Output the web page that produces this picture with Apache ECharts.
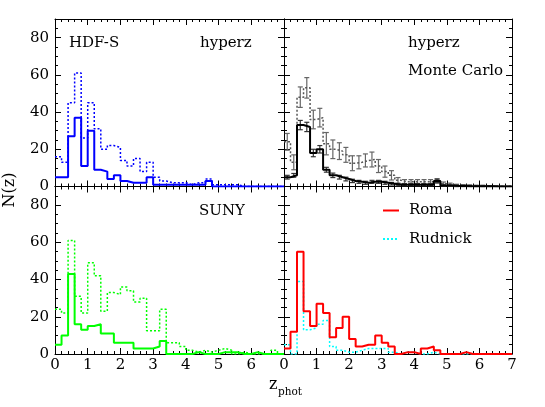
<!DOCTYPE html>
<html>
<head>
<meta charset="utf-8">
<script src="https://cdn.jsdelivr.net/npm/echarts@6/dist/echarts.min.js"></script>
<style>
  html, body { margin: 0; padding: 0; background: #fff; }
  #chart { width: 545px; height: 407px; }
</style>
</head>
<body>
<div id="chart"></div>
<script>
// 35 bins of width 0.2 in z_phot, from 0 to 7
const binWidth = 0.2;

// HDF-S, hyperz
const hyperzSolid  = [5, 5, 27, 37, 11, 30, 9, 8, 4, 6, 3, 2, 2, 2, 5, 1, 1, 1, 1, 1, 1, 1, 1, 3, 0, 0, 0, 0, 0, 0, 0, 0, 0, 0, 0];
const hyperzDotted = [16, 13, 45, 61, 26, 45, 31, 20, 22, 21, 14, 11, 15, 8, 13, 5, 3, 2, 2, 2, 1, 2, 2, 4, 1, 1, 1, 1, 0, 0, 0, 0, 0, 0, 0];

// hyperz, Monte Carlo (mean and scatter)
const mcSolid     = [5, 6, 33, 32, 18, 20, 9, 6, 5, 4, 3, 2.5, 2, 2.5, 2.5, 2, 1.5, 1, 1, 1, 1, 1, 1, 3, 0.5, 0.5, 0.3, 0.3, 0.2, 0.2, 0.1, 0.1, 0, 0, 0];
const mcSolidErr  = [1, 1, 2.5, 2.5, 2, 2, 1.3, 1.2, 1, 1, 0.9, 0.8, 0.8, 0.8, 0.8, 0.8, 0.7, 0.6, 0.6, 0.6, 0.6, 0.6, 0.6, 0.9, 0.4, 0.4, 0.3, 0.3, 0.3, 0.3, 0.2, 0.2, 0, 0, 0];
const mcDotted    = [24, 13, 48, 53, 36, 37, 23, 20, 19, 17, 12.5, 13, 14, 14.5, 11, 8, 6, 3.3, 2.5, 2.5, 2.5, 2.5, 2.5, 3, 1.5, 1, 0.6, 0.5, 0.4, 0.3, 0.3, 0.2, 0.2, 0.1, 0.1];
const mcDottedErr = [4.5, 4, 5.5, 5.5, 5, 5, 6, 5, 4.5, 4, 4, 3.5, 3.5, 4, 3.5, 3, 2.5, 1.5, 1.2, 1.2, 1.2, 1.2, 1.2, 1.2, 0.9, 0.8, 0.6, 0.5, 0.5, 0.4, 0.4, 0.3, 0.3, 0.2, 0.2];

// SUNY
const sunySolid  = [5, 10, 43, 16, 13, 15, 16, 11, 11, 6, 6, 6, 3, 3, 3, 4, 7, 0, 0, 0, 0, 1, 0, 0, 0, 1, 1, 1, 0, 0, 1, 0, 0, 0, 0];
const sunyDotted = [24, 22, 61, 31, 22, 49, 42, 23, 33, 32, 36, 34, 28, 30, 12.5, 12.5, 24, 6, 6, 4, 2, 1, 2, 1, 2, 3, 2, 0, 1, 0, 0, 0, 0, 2, 0];

// Roma / Rudnick
const romaSolid     = [3, 12, 55, 23, 15, 27, 22, 9, 14, 20, 8, 4, 5, 5, 10, 6, 4, 0, 1, 1, 0, 3, 4, 2, 0, 0, 0, 1, 0, 0, 0, 0, 0, 0, 0];
const rudnickDotted = [5, 0, 39, 13, 14, 16, 18, 4, 2, 1, 1, 2, 3, 3, 3, 3, 1, 0, 1, 1, 0, 0, 1, 0, 0, 0, 0, 0, 0, 0, 0, 0, 0, 0, 0];

const serif = '"DejaVu Serif", "Liberation Serif", serif';

const panelH = 167.5;
const panels = [
  { left: 55,  top: 19,    width: 229, xLabels: false, yLabels: true },
  { left: 284, top: 19,    width: 228, xLabels: false, yLabels: false },
  { left: 55,  top: 186.5, width: 229, xLabels: true,  yLabels: true, hideLastX: true },
  { left: 284, top: 186.5, width: 228, xLabels: true,  yLabels: false }
];

const grid = [], xAxis = [], yAxis = [];
const axisLine = { show: true, onZero: false, lineStyle: { color: '#000', width: 1 } };
const tickStyle = { color: '#000', width: 1 };
const labelStyle = { fontFamily: serif, fontSize: 15, color: '#000' };

panels.forEach((p, i) => {
  grid.push({ left: p.left, top: p.top, width: p.width, height: panelH, outerBoundsMode: 'none', containLabel: false });
  ['bottom', 'top'].forEach(pos => {
    xAxis.push({
      type: 'value', gridIndex: i, position: pos, min: 0, max: 7, interval: 1,
      axisLine, splitLine: { show: false },
      axisTick: { show: true, inside: true, length: 6, lineStyle: tickStyle },
      minorTick: { show: true, splitNumber: 5, length: 3, lineStyle: tickStyle },
      axisLabel: {
        show: pos === 'bottom' && p.xLabels, margin: 4, ...labelStyle,
        showMinLabel: true, showMaxLabel: !p.hideLastX
      }
    });
  });
  // major (every 20) then minor (every 5) on both sides
  ['left', 'right'].forEach(pos => {
    yAxis.push({
      type: 'value', gridIndex: i, position: pos, min: 0, max: 90, interval: 20,
      axisLine, splitLine: { show: false },
      axisTick: { show: true, inside: true, length: 6, lineStyle: tickStyle },
      axisLabel: {
        show: pos === 'left' && p.yLabels, margin: 6, ...labelStyle,
        showMinLabel: true, showMaxLabel: false
      }
    });
  });
  ['left', 'right'].forEach(pos => {
    yAxis.push({
      type: 'value', gridIndex: i, position: pos, min: 0, max: 90, interval: 5,
      axisLine: { show: false, onZero: false }, splitLine: { show: false },
      axisTick: { show: true, inside: true, length: 3, lineStyle: tickStyle },
      axisLabel: { show: false }
    });
  });
});

function stepData(vals) {
  const pts = vals.map((v, i) => [i * binWidth, v]);
  pts.push([vals.length * binWidth, vals[vals.length - 1]]);
  return pts;
}

function hist(name, vals, panel, color, width, dotted) {
  return {
    name, type: 'line', step: 'end',
    xAxisIndex: 2 * panel, yAxisIndex: 4 * panel,
    data: stepData(vals), symbol: 'none', showSymbol: false, silent: true,
    lineStyle: { color, width, type: dotted ? [2, 2] : 'solid' },
    itemStyle: { color }
  };
}

function errBars(vals, errs, panel, color) {
  return {
    type: 'custom', xAxisIndex: 2 * panel, yAxisIndex: 4 * panel, silent: true,
    data: vals.map((v, i) => [(i + 0.5) * binWidth, Math.max(0, v - errs[i]), v + errs[i]]),
    renderItem(params, api) {
      const x = api.value(0);
      const lo = api.coord([x, api.value(1)]);
      const hi = api.coord([x, api.value(2)]);
      if (lo[1] - hi[1] < 0.5) return { type: 'group', children: [] };
      const c = 2.5;
      const st = { stroke: color, lineWidth: 1.2 };
      return {
        type: 'group', children: [
          { type: 'line', shape: { x1: lo[0], y1: lo[1], x2: hi[0], y2: hi[1] }, style: st },
          { type: 'line', shape: { x1: lo[0] - c, y1: lo[1], x2: lo[0] + c, y2: lo[1] }, style: st },
          { type: 'line', shape: { x1: hi[0] - c, y1: hi[1], x2: hi[0] + c, y2: hi[1] }, style: st }
        ]
      };
    }
  };
}

const series = [
  hist('HDF-S dotted', hyperzDotted, 0, '#0000ff', 1.5, true),
  hist('HDF-S', hyperzSolid, 0, '#0000ff', 2, false),
  hist('MC dotted', mcDotted, 1, '#555555', 1.5, true),
  errBars(mcDotted, mcDottedErr, 1, '#666666'),
  hist('MC', mcSolid, 1, '#000000', 2, false),
  errBars(mcSolid, mcSolidErr, 1, '#333333'),
  hist('SUNY dotted', sunyDotted, 2, '#00ff00', 1.5, true),
  hist('SUNY', sunySolid, 2, '#00ff00', 2, false),
  hist('Rudnick', rudnickDotted, 3, '#00ffff', 1.5, true),
  hist('Roma', romaSolid, 3, '#ff0000', 2, false)
];

const txt = (text, x, y) => ({
  type: 'text', x, y, silent: true,
  style: { text, font: '15px ' + serif, fill: '#000', align: 'left', verticalAlign: 'middle' }
});

const option = {
  animation: false,
  backgroundColor: '#fff',
  grid, xAxis, yAxis, series,
  legend: {
    data: ['Roma', 'Rudnick'], orient: 'vertical', left: 382, top: 203, padding: 0,
    itemWidth: 16, itemHeight: 14, itemGap: 13.5, selectedMode: false,
    itemStyle: { opacity: 0 },
    textStyle: { fontFamily: serif, fontSize: 15, color: '#000', padding: [0, 0, 0, 5] }
  },
  graphic: [
    txt('HDF-S', 69, 43),
    txt('hyperz', 200, 43),
    txt('hyperz', 408, 43),
    txt('Monte Carlo', 408, 71.5),
    txt('SUNY', 199, 211),
    {
      type: 'text', x: 10, y: 190, rotation: Math.PI / 2, silent: true,
      style: { text: 'N(z)', font: '16px ' + serif, fill: '#000', align: 'center', verticalAlign: 'middle' }
    },
    {
      type: 'text', x: 269, y: 385, silent: true,
      style: { text: 'z', font: '16px ' + serif, fill: '#000', align: 'left', verticalAlign: 'middle' }
    },
    {
      type: 'text', x: 278, y: 392, silent: true,
      style: { text: 'phot', font: '10.5px ' + serif, fill: '#000', align: 'left', verticalAlign: 'middle' }
    }
  ]
};

const chart = echarts.init(document.getElementById('chart'));
chart.setOption(option);
</script>
</body>
</html>
